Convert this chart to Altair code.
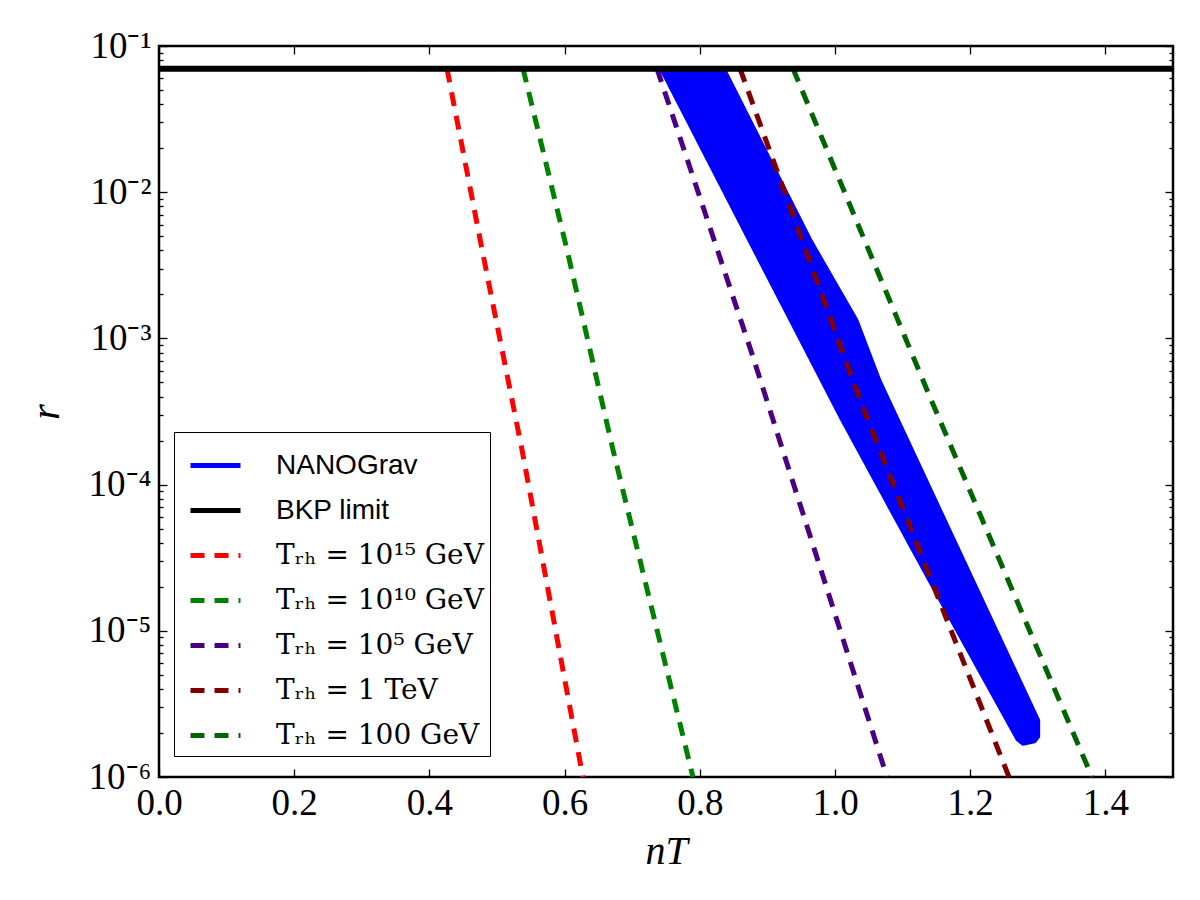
import altair as alt
import pandas as pd

# ---------------- data ----------------
series_labels = ["NANOGrav", "BKP limit",
                 "Tᵣₕ = 10¹⁵ GeV", "Tᵣₕ = 10¹⁰ GeV", "Tᵣₕ = 10⁵ GeV",
                 "Tᵣₕ = 1 TeV", "Tᵣₕ = 100 GeV"]
series_colors = ["#0000ff", "#000000", "#ff0000", "#008000", "#4b0082", "#800000", "#006400"]
series_dashes = [[1, 0], [1, 0], [14, 10], [14, 10], [14, 10], [14, 10], [14, 10]]

# NANOGrav band outline (polygon, clockwise)
band_n = [0.741, 0.879, 1.009, 1.138, 1.269, 1.278, 1.296, 1.302, 1.302,
          1.067, 1.033, 0.965, 0.837, 0.741]
band_r = [0.07, 4.03e-3, 2.77e-4, 2.22e-5, 1.79e-6, 1.66e-6, 1.73e-6, 1.88e-6, 2.45e-6,
          5.19e-4, 1.34e-3, 4.71e-3, 0.07, 0.07]

# BKP limit
bkp_n = [0.0, 1.5]
bkp_r = [0.07, 0.07]

# reheating-temperature lines
t15_n = [0.426, 0.478, 0.537, 0.627]
t15_r = [0.07, 4.03e-3, 1.73e-4, 1e-6]
t10_n = [0.5385, 0.6036, 0.6716, 0.7899]
t10_r = [0.07, 4.03e-3, 1.73e-4, 1e-6]
t5_n = [0.7367, 0.877, 1.0769]
t5_r = [0.07, 7.9e-4, 1e-6]
t1tev_n = [0.8595, 1.037, 1.2574]
t1tev_r = [0.07, 3.79e-4, 1e-6]
t100_n = [0.9379, 1.1405, 1.3802]
t100_r = [0.07, 3.97e-4, 1e-6]

x_ticks = [0.0, 0.2, 0.4, 0.6, 0.8, 1.0, 1.2, 1.4]
y_major = [1e-6, 1e-5, 1e-4, 1e-3, 1e-2, 1e-1]
y_minor = [k * 10.0 ** e for e in range(-6, -1) for k in range(2, 10)]

# ---------------- tables ----------------
def table(ns, rs, label):
    return pd.DataFrame({"n": ns, "r": rs, "series": label, "i": list(range(len(ns)))})

df_band = table(band_n, band_r, series_labels[0])
df_bkp = table(bkp_n, bkp_r, series_labels[1])
df_lines_a = pd.concat([table(t15_n, t15_r, series_labels[2]),
                        table(t10_n, t10_r, series_labels[3]),
                        table(t5_n, t5_r, series_labels[4])])
df_lines_b = pd.concat([table(t1tev_n, t1tev_r, series_labels[5]),
                        table(t100_n, t100_r, series_labels[6])])

# ---------------- scales / axes ----------------
FONT_SERIF = "Liberation Serif"
xscale = alt.Scale(domain=[0, 1.5], nice=False, zero=False)
yscale = alt.Scale(type="log", domain=[1e-6, 1e-1], nice=False)

sup_expr = ("'10' + ['\u207b\u2076','\u207b\u2075','\u207b\u2074','\u207b\u00b3',"
            "'\u207b\u00b2','\u207b\u00b9'][round(log(datum.value)/LN10) + 6]")

common_axis = dict(domain=False, grid=False, tickColor="black", tickWidth=1.3,
                   labelColor="black", labelFont=FONT_SERIF, labelFontSize=37,
                   labelFlush=False, labelOverlap=False)

x_bottom = alt.Axis(orient="bottom", values=x_ticks, format=".1f", offset=-8, tickSize=8,
                    labelPadding=8, title="nT", titleFont=FONT_SERIF, titleFontSize=40,
                    titleFontStyle="italic", titleFontWeight="normal", titleColor="black",
                    titlePadding=10, **common_axis)
x_top = alt.Axis(orient="top", values=x_ticks, offset=-8, tickSize=8, labels=False,
                 title=None, **common_axis)
y_left = alt.Axis(orient="left", values=y_major, labelExpr=sup_expr, offset=-8, tickSize=8,
                  labelPadding=8, title="r", titleFont=FONT_SERIF, titleFontSize=40,
                  titleFontStyle="italic", titleFontWeight="normal", titleColor="black",
                  titlePadding=22, **common_axis)
y_right = alt.Axis(orient="right", values=y_major, offset=-8, tickSize=8, labels=False,
                   title=None, **common_axis)
y_left_minor = alt.Axis(orient="left", values=y_minor, offset=-4, tickSize=4, labels=False,
                        title=None, **common_axis)
y_right_minor = alt.Axis(orient="right", values=y_minor, offset=-4, tickSize=4, labels=False,
                         title=None, **common_axis)

legend = alt.Legend(
    title=None, orient="none", legendX=15, legendY=386,
    symbolType="stroke", symbolSize=2500, symbolStrokeWidth=5, symbolOffset=8,
    labelFont=alt.ExprRef(expr="indexof(['NANOGrav','BKP limit'], datum.label) >= 0 ? 'Liberation Sans' : 'DejaVu Serif'"),
    labelFontSize=28, labelColor="black", labelOffset=33, labelLimit=400,
    padding=6, rowPadding=3, strokeColor="black", fillColor="white",
    cornerRadius=0,
)

color_enc = alt.Color("series:N", scale=alt.Scale(domain=series_labels, range=series_colors),
                      legend=legend)
dash_enc = alt.StrokeDash("series:N", scale=alt.Scale(domain=series_labels, range=series_dashes),
                          legend=legend)

band = alt.Chart(df_band).mark_line(fill="#0000ff", strokeWidth=2, strokeJoin="round").encode(
    x=alt.X("n:Q", scale=xscale, axis=x_bottom),
    y=alt.Y("r:Q", scale=yscale, axis=y_left),
    color=color_enc, strokeDash=dash_enc, order="i:Q")

bkp = alt.Chart(df_bkp).mark_line(strokeWidth=6).encode(
    x=alt.X("n:Q", scale=xscale, axis=x_top),
    y=alt.Y("r:Q", scale=yscale, axis=y_right),
    color=color_enc, strokeDash=dash_enc, order="i:Q")

lines_a = alt.Chart(df_lines_a).mark_line(strokeWidth=5).encode(
    x=alt.X("n:Q", scale=xscale, axis=None),
    y=alt.Y("r:Q", scale=yscale, axis=y_left_minor),
    color=color_enc, strokeDash=dash_enc, order="i:Q")

lines_b = alt.Chart(df_lines_b).mark_line(strokeWidth=5).encode(
    x=alt.X("n:Q", scale=xscale, axis=None),
    y=alt.Y("r:Q", scale=yscale, axis=y_right_minor),
    color=color_enc, strokeDash=dash_enc, order="i:Q")

chart = alt.layer(band, lines_a, lines_b, bkp).resolve_axis(
    x="independent", y="independent"
).properties(
    width=1014, height=731, autosize="none",
    padding={"left": 151, "top": 38, "right": 19, "bottom": 110},
    background="white",
).configure_view(stroke="black", strokeWidth=2.5)

chart.save("out.html", embed_options={"renderer": "svg", "actions": False})
